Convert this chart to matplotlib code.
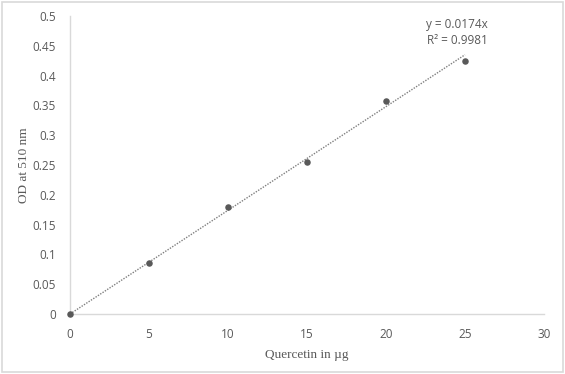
import matplotlib
matplotlib.use("Agg")
import matplotlib.pyplot as plt
import numpy as np

# ----------------------------
# Data
# ----------------------------
quercetin_ug = [0, 5, 10, 15, 20, 25]
od_510 = [0.0, 0.085, 0.180, 0.255, 0.357, 0.425]
slope = 0.0174
trend_x = [0, 25]
x_ticks = [0, 5, 10, 15, 20, 25, 30]
y_ticks = [0, 0.05, 0.1, 0.15, 0.2, 0.25, 0.3, 0.35, 0.4, 0.45, 0.5]
y_tick_labels = ["0", "0.05", "0.1", "0.15", "0.2", "0.25", "0.3", "0.35", "0.4", "0.45", "0.5"]

tick_color = "#595959"
spine_color = "#d9d9d9"

fig = plt.figure(figsize=(5.65, 3.74), dpi=100)
fig.patch.set_facecolor("white")

# light border around the whole chart, like the Excel chart area
border = plt.Rectangle((0.004, 0.006), 0.992, 0.988, transform=fig.transFigure,
                       fill=False, edgecolor="#d9d9d9", linewidth=1.2)
fig.add_artist(border)

ax = fig.add_axes([0.1239, 0.1604, 0.8389, 0.7968])

# trendline
tx = np.array(trend_x)
ax.plot(tx, slope * tx, linestyle=(0, (1, 1)), color="#7f7f7f", linewidth=1.0, zorder=2)

# measured points
ax.scatter(quercetin_ug, od_510, s=22, color="#595959", zorder=3, linewidths=0, clip_on=False)

ax.set_xlim(0, 30)
ax.set_ylim(0, 0.5)
ax.set_xticks(x_ticks)
ax.set_yticks(y_ticks)
ax.set_yticklabels(y_tick_labels)
ax.tick_params(axis="both", length=0, labelsize=8.5, labelcolor=tick_color)
ax.tick_params(axis="x", pad=10)
ax.tick_params(axis="y", pad=10)
for lbl in ax.get_xticklabels() + ax.get_yticklabels():
    lbl.set_family(["Open Sans", "DejaVu Sans"])

for side in ["top", "right"]:
    ax.spines[side].set_visible(False)
for side in ["left", "bottom"]:
    ax.spines[side].set_color(spine_color)
    ax.spines[side].set_linewidth(1.0)

ax.set_xlabel("Quercetin in µg", family="Liberation Serif", fontsize=9.5, color=tick_color, labelpad=6)
ax.set_ylabel("OD at 510 nm", family="Liberation Serif", fontsize=9.5, color=tick_color, labelpad=2)

ax.text(24.5, 0.473, "y = 0.0174x\nR² = 0.9981", ha="center", va="center",
        fontsize=8.5, color=tick_color, family=["Open Sans", "DejaVu Sans"], linespacing=1.3)

fig.savefig("out.png", dpi=100)
